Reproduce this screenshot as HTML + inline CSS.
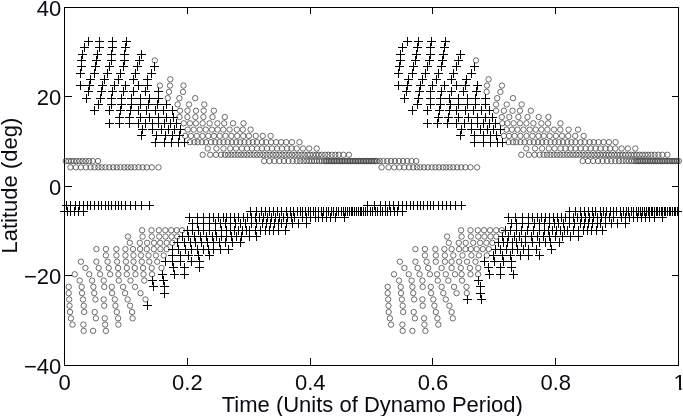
<!DOCTYPE html>
<html><head><meta charset="utf-8"><title>Butterfly diagram</title>
<style>html,body{margin:0;padding:0;background:#fff}svg{display:block}text{font-family:"Liberation Sans",Arial,Helvetica,sans-serif;font-size:22px;fill:#0a0a14}</style></head><body>
<svg width="683" height="416" viewBox="0 0 683 416">
<rect width="683" height="416" fill="#fff"/>
<g stroke="#000" stroke-width="1" fill="none" shape-rendering="crispEdges">
<rect x="64.5" y="7.5" width="614.0" height="358.0"/>
<path d="M187.5 365.5v-7.5M187.5 7.5v6.5M310.5 365.5v-7.5M310.5 7.5v6.5M432.5 365.5v-7.5M432.5 7.5v6.5M555.5 365.5v-7.5M555.5 7.5v6.5M64.5 96.5h7.5M678.5 96.5h-6.5M64.5 186.5h7.5M678.5 186.5h-6.5M64.5 275.5h7.5M678.5 275.5h-6.5"/>
</g>
<path d="M84 41.5h9M88.5 37v9M95 41.5h9M99.5 37v9M108 41.5h9M112.5 37v9M122 41.5h9M126.5 37v9M80 47.5h9M84.5 43v9M95 47.5h9M99.5 43v9M108 47.5h9M112.5 43v9M121 47.5h9M125.5 43v9M78 54.5h9M82.5 50v9M93 54.5h9M97.5 50v9M107 54.5h9M111.5 50v9M120 54.5h9M124.5 50v9M137 54.5h9M141.5 50v9M77 60.5h9M81.5 56v9M92 60.5h9M96.5 56v9M107 60.5h9M111.5 56v9M120 60.5h9M124.5 56v9M135 60.5h9M139.5 56v9M77 66.5h9M81.5 62v9M91 66.5h9M95.5 62v9M105 66.5h9M109.5 62v9M119 66.5h9M123.5 62v9M133 66.5h9M137.5 62v9M150 66.5h9M154.5 62v9M76 73.5h9M80.5 69v9M90 73.5h9M94.5 69v9M103 73.5h9M107.5 69v9M116 73.5h9M120.5 69v9M131 73.5h9M135.5 69v9M147 73.5h9M151.5 69v9M86 79.5h9M90.5 75v9M100 79.5h9M104.5 75v9M114 79.5h9M118.5 75v9M129 79.5h9M133.5 75v9M143 79.5h9M147.5 75v9M76 85.5h9M80.5 81v9M85 85.5h9M89.5 81v9M98 85.5h9M102.5 81v9M110 85.5h9M114.5 81v9M121 85.5h9M125.5 81v9M134 85.5h9M138.5 81v9M143 85.5h9M147.5 81v9M84 91.5h9M88.5 87v9M97 91.5h9M101.5 87v9M108 91.5h9M112.5 87v9M119 91.5h9M123.5 87v9M129 91.5h9M133.5 87v9M141 91.5h9M145.5 87v9M154 91.5h9M158.5 87v9M82 98.5h9M86.5 94v9M96 98.5h9M100.5 94v9M107 98.5h9M111.5 94v9M117 98.5h9M121.5 94v9M127 98.5h9M131.5 94v9M136 98.5h9M140.5 94v9M145 98.5h9M149.5 94v9M154 98.5h9M158.5 94v9M94 104.5h9M98.5 100v9M107 104.5h9M111.5 100v9M117 104.5h9M121.5 100v9M127 104.5h9M131.5 100v9M136 104.5h9M140.5 100v9M144 104.5h9M148.5 100v9M153 104.5h9M157.5 100v9M162 104.5h9M166.5 100v9M90 110.5h9M94.5 106v9M105 110.5h9M109.5 106v9M116 110.5h9M120.5 106v9M126 110.5h9M130.5 106v9M134 110.5h9M138.5 106v9M142 110.5h9M146.5 106v9M151 110.5h9M155.5 106v9M159 110.5h9M163.5 106v9M168 110.5h9M172.5 106v9M115 117.5h9M119.5 113v9M125 117.5h9M129.5 113v9M136 117.5h9M140.5 113v9M145 117.5h9M149.5 113v9M154 117.5h9M158.5 113v9M162 117.5h9M166.5 113v9M169 117.5h9M173.5 113v9M105 123.5h9M109.5 119v9M115 123.5h9M119.5 119v9M125 123.5h9M129.5 119v9M134 123.5h9M138.5 119v9M141 123.5h9M145.5 119v9M148 123.5h9M152.5 119v9M154 123.5h9M158.5 119v9M160 123.5h9M164.5 119v9M166 123.5h9M170.5 119v9M172 123.5h9M176.5 119v9M138 129.5h9M142.5 125v9M148 129.5h9M152.5 125v9M157 129.5h9M161.5 125v9M164 129.5h9M168.5 125v9M170 129.5h9M174.5 125v9M176 129.5h9M180.5 125v9M137 135.5h9M141.5 131v9M152 135.5h9M156.5 131v9M161 135.5h9M165.5 131v9M168 135.5h9M172.5 131v9M175 135.5h9M179.5 131v9M151 142.5h9M155.5 138v9M160 142.5h9M164.5 138v9M167 142.5h9M171.5 138v9M174 142.5h9M178.5 138v9M180 142.5h9M184.5 138v9M62 205.5h9M66.5 201v9M66 205.5h9M70.5 201v9M71 205.5h9M75.5 201v9M75 205.5h9M79.5 201v9M79 205.5h9M83.5 201v9M83 205.5h9M87.5 201v9M86 205.5h9M90.5 201v9M90 205.5h9M94.5 201v9M94 205.5h9M98.5 201v9M97 205.5h9M101.5 201v9M101 205.5h9M105.5 201v9M104 205.5h9M108.5 201v9M107 205.5h9M111.5 201v9M111 205.5h9M115.5 201v9M114 205.5h9M118.5 201v9M117 205.5h9M121.5 201v9M121 205.5h9M125.5 201v9M126 205.5h9M130.5 201v9M131 205.5h9M135.5 201v9M137 205.5h9M141.5 201v9M145 205.5h9M149.5 201v9M363 205.5h9M367.5 201v9M370 205.5h9M374.5 201v9M376 205.5h9M380.5 201v9M381 205.5h9M385.5 201v9M385 205.5h9M389.5 201v9M389 205.5h9M393.5 201v9M394 205.5h9M398.5 201v9M398 205.5h9M402.5 201v9M402 205.5h9M406.5 201v9M406 205.5h9M410.5 201v9M409 205.5h9M413.5 201v9M413 205.5h9M417.5 201v9M416 205.5h9M420.5 201v9M419 205.5h9M423.5 201v9M423 205.5h9M427.5 201v9M426 205.5h9M430.5 201v9M429 205.5h9M433.5 201v9M434 205.5h9M438.5 201v9M438 205.5h9M442.5 201v9M442 205.5h9M446.5 201v9M446 205.5h9M450.5 201v9M451 205.5h9M455.5 201v9M457 205.5h9M461.5 201v9M60 211.5h9M64.5 207v9M63 211.5h9M67.5 207v9M66 211.5h9M70.5 207v9M70 211.5h9M74.5 207v9M74 211.5h9M78.5 207v9M79 211.5h9M83.5 207v9M246 211.5h9M250.5 207v9M252 211.5h9M256.5 207v9M257 211.5h9M261.5 207v9M261 211.5h9M265.5 207v9M265 211.5h9M269.5 207v9M269 211.5h9M273.5 207v9M273 211.5h9M277.5 207v9M277 211.5h9M281.5 207v9M282 211.5h9M286.5 207v9M286 211.5h9M290.5 207v9M289 211.5h9M293.5 207v9M293 211.5h9M297.5 207v9M296 211.5h9M300.5 207v9M298 211.5h9M302.5 207v9M301 211.5h9M305.5 207v9M304 211.5h9M308.5 207v9M306 211.5h9M310.5 207v9M309 211.5h9M313.5 207v9M311 211.5h9M315.5 207v9M314 211.5h9M318.5 207v9M317 211.5h9M321.5 207v9M319 211.5h9M323.5 207v9M322 211.5h9M326.5 207v9M324 211.5h9M328.5 207v9M327 211.5h9M331.5 207v9M329 211.5h9M333.5 207v9M332 211.5h9M336.5 207v9M334 211.5h9M338.5 207v9M337 211.5h9M341.5 207v9M339 211.5h9M343.5 207v9M341 211.5h9M345.5 207v9M343 211.5h9M347.5 207v9M345 211.5h9M349.5 207v9M347 211.5h9M351.5 207v9M348 211.5h9M352.5 207v9M350 211.5h9M354.5 207v9M352 211.5h9M356.5 207v9M354 211.5h9M358.5 207v9M356 211.5h9M360.5 207v9M357 211.5h9M361.5 207v9M359 211.5h9M363.5 207v9M361 211.5h9M365.5 207v9M363 211.5h9M367.5 207v9M366 211.5h9M370.5 207v9M368 211.5h9M372.5 207v9M371 211.5h9M375.5 207v9M373 211.5h9M377.5 207v9M376 211.5h9M380.5 207v9M378 211.5h9M382.5 207v9M381 211.5h9M385.5 207v9M383 211.5h9M387.5 207v9M386 211.5h9M390.5 207v9M390 211.5h9M394.5 207v9M393 211.5h9M397.5 207v9M398 211.5h9M402.5 207v9M185 217.5h9M189.5 213v9M193 217.5h9M197.5 213v9M199 217.5h9M203.5 213v9M205 217.5h9M209.5 213v9M209 217.5h9M213.5 213v9M214 217.5h9M218.5 213v9M219 217.5h9M223.5 213v9M222 217.5h9M226.5 213v9M226 217.5h9M230.5 213v9M230 217.5h9M234.5 213v9M234 217.5h9M238.5 213v9M239 217.5h9M243.5 213v9M243 217.5h9M247.5 213v9M247 217.5h9M251.5 213v9M251 217.5h9M255.5 213v9M255 217.5h9M259.5 213v9M259 217.5h9M263.5 213v9M263 217.5h9M267.5 213v9M267 217.5h9M271.5 213v9M271 217.5h9M275.5 213v9M275 217.5h9M279.5 213v9M279 217.5h9M283.5 213v9M283 217.5h9M287.5 213v9M287 217.5h9M291.5 213v9M290 217.5h9M294.5 213v9M298 217.5h9M302.5 213v9M302 217.5h9M306.5 213v9M306 217.5h9M310.5 213v9M311 217.5h9M315.5 213v9M314 217.5h9M318.5 213v9M318 217.5h9M322.5 213v9M322 217.5h9M326.5 213v9M326 217.5h9M330.5 213v9M331 217.5h9M335.5 213v9M340 217.5h9M344.5 213v9M188 223.5h9M192.5 219v9M193 223.5h9M197.5 219v9M199 223.5h9M203.5 219v9M205 223.5h9M209.5 219v9M211 223.5h9M215.5 219v9M216 223.5h9M220.5 219v9M221 223.5h9M225.5 219v9M226 223.5h9M230.5 219v9M231 223.5h9M235.5 219v9M236 223.5h9M240.5 219v9M241 223.5h9M245.5 219v9M247 223.5h9M251.5 219v9M252 223.5h9M256.5 219v9M258 223.5h9M262.5 219v9M262 223.5h9M266.5 219v9M266 223.5h9M270.5 219v9M270 223.5h9M274.5 219v9M274 223.5h9M278.5 219v9M277 223.5h9M281.5 219v9M282 223.5h9M286.5 219v9M288 223.5h9M292.5 219v9M294 223.5h9M298.5 219v9M302 223.5h9M306.5 219v9M183 230.5h9M187.5 226v9M188 230.5h9M192.5 226v9M194 230.5h9M198.5 226v9M199 230.5h9M203.5 226v9M205 230.5h9M209.5 226v9M211 230.5h9M215.5 226v9M217 230.5h9M221.5 226v9M222 230.5h9M226.5 226v9M226 230.5h9M230.5 226v9M230 230.5h9M234.5 226v9M234 230.5h9M238.5 226v9M238 230.5h9M242.5 226v9M242 230.5h9M246.5 226v9M245 230.5h9M249.5 226v9M251 230.5h9M255.5 226v9M256 230.5h9M260.5 226v9M261 230.5h9M265.5 226v9M265 230.5h9M269.5 226v9M269 230.5h9M273.5 226v9M274 230.5h9M278.5 226v9M281 230.5h9M285.5 226v9M178 236.5h9M182.5 232v9M184 236.5h9M188.5 232v9M190 236.5h9M194.5 232v9M196 236.5h9M200.5 232v9M202 236.5h9M206.5 232v9M208 236.5h9M212.5 232v9M212 236.5h9M216.5 232v9M217 236.5h9M221.5 232v9M222 236.5h9M226.5 232v9M227 236.5h9M231.5 232v9M232 236.5h9M236.5 232v9M237 236.5h9M241.5 232v9M245 236.5h9M249.5 232v9M252 236.5h9M256.5 232v9M173 242.5h9M177.5 238v9M180 242.5h9M184.5 238v9M186 242.5h9M190.5 238v9M191 242.5h9M195.5 238v9M197 242.5h9M201.5 238v9M203 242.5h9M207.5 238v9M209 242.5h9M213.5 238v9M215 242.5h9M219.5 238v9M221 242.5h9M225.5 238v9M228 242.5h9M232.5 238v9M236 242.5h9M240.5 238v9M168 249.5h9M172.5 245v9M174 249.5h9M178.5 245v9M181 249.5h9M185.5 245v9M187 249.5h9M191.5 245v9M193 249.5h9M197.5 245v9M199 249.5h9M203.5 245v9M204 249.5h9M208.5 245v9M209 249.5h9M213.5 245v9M216 249.5h9M220.5 245v9M224 249.5h9M228.5 245v9M168 255.5h9M172.5 251v9M176 255.5h9M180.5 251v9M184 255.5h9M188.5 251v9M194 255.5h9M198.5 251v9M205 255.5h9M209.5 251v9M161 261.5h9M165.5 257v9M168 261.5h9M172.5 257v9M176 261.5h9M180.5 257v9M187 261.5h9M191.5 257v9M195 261.5h9M199.5 257v9M169 267.5h9M173.5 263v9M180 267.5h9M184.5 263v9M195 267.5h9M199.5 263v9M158 274.5h9M162.5 270v9M170 274.5h9M174.5 270v9M180 274.5h9M184.5 270v9M148 280.5h9M152.5 276v9M159 280.5h9M163.5 276v9M149 286.5h9M153.5 282v9M160 286.5h9M164.5 282v9M160 293.5h9M164.5 289v9M143 305.5h9M147.5 301v9M403 41.5h9M407.5 37v9M414 41.5h9M418.5 37v9M427 41.5h9M431.5 37v9M441 41.5h9M445.5 37v9M398 47.5h9M402.5 43v9M413 47.5h9M417.5 43v9M426 47.5h9M430.5 43v9M440 47.5h9M444.5 43v9M396 54.5h9M400.5 50v9M412 54.5h9M416.5 50v9M426 54.5h9M430.5 50v9M439 54.5h9M443.5 50v9M456 54.5h9M460.5 50v9M396 60.5h9M400.5 56v9M411 60.5h9M415.5 56v9M425 60.5h9M429.5 56v9M438 60.5h9M442.5 56v9M454 60.5h9M458.5 56v9M395 66.5h9M399.5 62v9M409 66.5h9M413.5 62v9M423 66.5h9M427.5 62v9M437 66.5h9M441.5 62v9M452 66.5h9M456.5 62v9M470 66.5h9M474.5 62v9M394 73.5h9M398.5 69v9M408 73.5h9M412.5 69v9M421 73.5h9M425.5 69v9M434 73.5h9M438.5 69v9M449 73.5h9M453.5 69v9M467 73.5h9M471.5 69v9M404 79.5h9M408.5 75v9M418 79.5h9M422.5 75v9M432 79.5h9M436.5 75v9M447 79.5h9M451.5 75v9M462 79.5h9M466.5 75v9M394 85.5h9M398.5 81v9M403 85.5h9M407.5 81v9M416 85.5h9M420.5 81v9M428 85.5h9M432.5 81v9M440 85.5h9M444.5 81v9M452 85.5h9M456.5 81v9M461 85.5h9M465.5 81v9M473 85.5h9M477.5 81v9M402 91.5h9M406.5 87v9M415 91.5h9M419.5 87v9M426 91.5h9M430.5 87v9M437 91.5h9M441.5 87v9M447 91.5h9M451.5 87v9M459 91.5h9M463.5 87v9M472 91.5h9M476.5 87v9M400 98.5h9M404.5 94v9M414 98.5h9M418.5 94v9M426 98.5h9M430.5 94v9M436 98.5h9M440.5 94v9M445 98.5h9M449.5 94v9M454 98.5h9M458.5 94v9M463 98.5h9M467.5 94v9M471 98.5h9M475.5 94v9M481 98.5h9M485.5 94v9M413 104.5h9M417.5 100v9M426 104.5h9M430.5 100v9M436 104.5h9M440.5 100v9M446 104.5h9M450.5 100v9M454 104.5h9M458.5 100v9M463 104.5h9M467.5 100v9M471 104.5h9M475.5 100v9M481 104.5h9M485.5 100v9M408 110.5h9M412.5 106v9M423 110.5h9M427.5 106v9M435 110.5h9M439.5 106v9M445 110.5h9M449.5 106v9M452 110.5h9M456.5 106v9M461 110.5h9M465.5 106v9M469 110.5h9M473.5 106v9M477 110.5h9M481.5 106v9M485 110.5h9M489.5 106v9M434 117.5h9M438.5 113v9M444 117.5h9M448.5 113v9M454 117.5h9M458.5 113v9M464 117.5h9M468.5 113v9M473 117.5h9M477.5 113v9M481 117.5h9M485.5 113v9M488 117.5h9M492.5 113v9M423 123.5h9M427.5 119v9M433 123.5h9M437.5 119v9M443 123.5h9M447.5 119v9M452 123.5h9M456.5 119v9M460 123.5h9M464.5 119v9M467 123.5h9M471.5 119v9M473 123.5h9M477.5 119v9M479 123.5h9M483.5 119v9M485 123.5h9M489.5 119v9M491 123.5h9M495.5 119v9M457 129.5h9M461.5 125v9M467 129.5h9M471.5 125v9M476 129.5h9M480.5 125v9M483 129.5h9M487.5 125v9M489 129.5h9M493.5 125v9M496 129.5h9M500.5 125v9M456 135.5h9M460.5 131v9M470 135.5h9M474.5 131v9M479 135.5h9M483.5 131v9M486 135.5h9M490.5 131v9M492 135.5h9M496.5 131v9M470 142.5h9M474.5 138v9M479 142.5h9M483.5 138v9M486 142.5h9M490.5 138v9M493 142.5h9M497.5 138v9M498 142.5h9M502.5 138v9M565 211.5h9M569.5 207v9M571 211.5h9M575.5 207v9M576 211.5h9M580.5 207v9M580 211.5h9M584.5 207v9M584 211.5h9M588.5 207v9M588 211.5h9M592.5 207v9M591 211.5h9M595.5 207v9M596 211.5h9M600.5 207v9M599 211.5h9M603.5 207v9M602 211.5h9M606.5 207v9M606 211.5h9M610.5 207v9M609 211.5h9M613.5 207v9M612 211.5h9M616.5 207v9M616 211.5h9M620.5 207v9M619 211.5h9M623.5 207v9M622 211.5h9M626.5 207v9M624 211.5h9M628.5 207v9M627 211.5h9M631.5 207v9M629 211.5h9M633.5 207v9M632 211.5h9M636.5 207v9M634 211.5h9M638.5 207v9M636 211.5h9M640.5 207v9M638 211.5h9M642.5 207v9M640 211.5h9M644.5 207v9M642 211.5h9M646.5 207v9M644 211.5h9M648.5 207v9M645 211.5h9M649.5 207v9M647 211.5h9M651.5 207v9M648 211.5h9M652.5 207v9M650 211.5h9M654.5 207v9M652 211.5h9M656.5 207v9M653 211.5h9M657.5 207v9M655 211.5h9M659.5 207v9M657 211.5h9M661.5 207v9M658 211.5h9M662.5 207v9M660 211.5h9M664.5 207v9M661 211.5h9M665.5 207v9M663 211.5h9M667.5 207v9M665 211.5h9M669.5 207v9M666 211.5h9M670.5 207v9M668 211.5h9M672.5 207v9M670 211.5h9M674.5 207v9M671 211.5h9M675.5 207v9M673 211.5h9M677.5 207v9M504 217.5h9M508.5 213v9M511 217.5h9M515.5 213v9M518 217.5h9M522.5 213v9M524 217.5h9M528.5 213v9M528 217.5h9M532.5 213v9M533 217.5h9M537.5 213v9M537 217.5h9M541.5 213v9M541 217.5h9M545.5 213v9M545 217.5h9M549.5 213v9M549 217.5h9M553.5 213v9M553 217.5h9M557.5 213v9M557 217.5h9M561.5 213v9M561 217.5h9M565.5 213v9M565 217.5h9M569.5 213v9M569 217.5h9M573.5 213v9M573 217.5h9M577.5 213v9M577 217.5h9M581.5 213v9M581 217.5h9M585.5 213v9M585 217.5h9M589.5 213v9M589 217.5h9M593.5 213v9M593 217.5h9M597.5 213v9M597 217.5h9M601.5 213v9M601 217.5h9M605.5 213v9M605 217.5h9M609.5 213v9M609 217.5h9M613.5 213v9M617 217.5h9M621.5 213v9M621 217.5h9M625.5 213v9M625 217.5h9M629.5 213v9M629 217.5h9M633.5 213v9M633 217.5h9M637.5 213v9M637 217.5h9M641.5 213v9M641 217.5h9M645.5 213v9M645 217.5h9M649.5 213v9M650 217.5h9M654.5 213v9M658 217.5h9M662.5 213v9M507 223.5h9M511.5 219v9M512 223.5h9M516.5 219v9M518 223.5h9M522.5 219v9M524 223.5h9M528.5 219v9M530 223.5h9M534.5 219v9M535 223.5h9M539.5 219v9M540 223.5h9M544.5 219v9M545 223.5h9M549.5 219v9M550 223.5h9M554.5 219v9M554 223.5h9M558.5 219v9M559 223.5h9M563.5 219v9M565 223.5h9M569.5 219v9M570 223.5h9M574.5 219v9M576 223.5h9M580.5 219v9M580 223.5h9M584.5 219v9M584 223.5h9M588.5 219v9M588 223.5h9M592.5 219v9M593 223.5h9M597.5 219v9M596 223.5h9M600.5 219v9M601 223.5h9M605.5 219v9M607 223.5h9M611.5 219v9M613 223.5h9M617.5 219v9M621 223.5h9M625.5 219v9M501 230.5h9M505.5 226v9M506 230.5h9M510.5 226v9M512 230.5h9M516.5 226v9M517 230.5h9M521.5 226v9M523 230.5h9M527.5 226v9M529 230.5h9M533.5 226v9M535 230.5h9M539.5 226v9M540 230.5h9M544.5 226v9M544 230.5h9M548.5 226v9M548 230.5h9M552.5 226v9M552 230.5h9M556.5 226v9M556 230.5h9M560.5 226v9M560 230.5h9M564.5 226v9M563 230.5h9M567.5 226v9M569 230.5h9M573.5 226v9M574 230.5h9M578.5 226v9M579 230.5h9M583.5 226v9M583 230.5h9M587.5 226v9M587 230.5h9M591.5 226v9M592 230.5h9M596.5 226v9M598 230.5h9M602.5 226v9M498 236.5h9M502.5 232v9M504 236.5h9M508.5 232v9M510 236.5h9M514.5 232v9M515 236.5h9M519.5 232v9M521 236.5h9M525.5 232v9M527 236.5h9M531.5 232v9M533 236.5h9M537.5 232v9M539 236.5h9M543.5 232v9M545 236.5h9M549.5 232v9M551 236.5h9M555.5 232v9M558 236.5h9M562.5 232v9M566 236.5h9M570.5 232v9M574 236.5h9M578.5 232v9M494 242.5h9M498.5 238v9M499 242.5h9M503.5 238v9M503 242.5h9M507.5 238v9M508 242.5h9M512.5 238v9M512 242.5h9M516.5 238v9M517 242.5h9M521.5 238v9M521 242.5h9M525.5 238v9M528 242.5h9M532.5 238v9M535 242.5h9M539.5 238v9M541 242.5h9M545.5 238v9M546 242.5h9M550.5 238v9M555 242.5h9M559.5 238v9M491 249.5h9M495.5 245v9M496 249.5h9M500.5 245v9M502 249.5h9M506.5 245v9M508 249.5h9M512.5 245v9M513 249.5h9M517.5 245v9M519 249.5h9M523.5 245v9M524 249.5h9M528.5 245v9M532 249.5h9M536.5 245v9M547 249.5h9M551.5 245v9M489 255.5h9M493.5 251v9M498 255.5h9M502.5 251v9M506 255.5h9M510.5 251v9M516 255.5h9M520.5 251v9M524 255.5h9M528.5 251v9M535 255.5h9M539.5 251v9M480 261.5h9M484.5 257v9M490 261.5h9M494.5 257v9M499 261.5h9M503.5 257v9M507 261.5h9M511.5 257v9M484 267.5h9M488.5 263v9M496 267.5h9M500.5 263v9M507 267.5h9M511.5 263v9M485 274.5h9M489.5 270v9M496 274.5h9M500.5 270v9M509 274.5h9M513.5 270v9M474 280.5h9M478.5 276v9M476 286.5h9M480.5 282v9M476 293.5h9M480.5 289v9M463 299.5h9M467.5 295v9M477 299.5h9M481.5 295v9" stroke="#000" stroke-width="1" fill="none" shape-rendering="crispEdges"/>
<g fill="none" stroke="#3a3a3a" stroke-width="0.74">
<circle cx="154.8" cy="60.42" r="2.7"/>
<circle cx="170.3" cy="79.29" r="2.7"/>
<circle cx="159.9" cy="85.58" r="2.7"/>
<circle cx="170.0" cy="85.58" r="2.7"/>
<circle cx="183.5" cy="85.58" r="2.7"/>
<circle cx="169.0" cy="91.88" r="2.7"/>
<circle cx="183.0" cy="91.88" r="2.7"/>
<circle cx="167.7" cy="98.16" r="2.7"/>
<circle cx="179.4" cy="98.16" r="2.7"/>
<circle cx="195.2" cy="98.16" r="2.7"/>
<circle cx="177.7" cy="104.45" r="2.7"/>
<circle cx="189.0" cy="104.45" r="2.7"/>
<circle cx="204.3" cy="104.45" r="2.7"/>
<circle cx="180.0" cy="110.74" r="2.7"/>
<circle cx="187.5" cy="110.74" r="2.7"/>
<circle cx="196.0" cy="110.74" r="2.7"/>
<circle cx="203.7" cy="110.74" r="2.7"/>
<circle cx="213.9" cy="110.74" r="2.7"/>
<circle cx="179.5" cy="117.03" r="2.7"/>
<circle cx="187.4" cy="117.03" r="2.7"/>
<circle cx="195.4" cy="117.03" r="2.7"/>
<circle cx="203.4" cy="117.03" r="2.7"/>
<circle cx="212.5" cy="117.03" r="2.7"/>
<circle cx="224.8" cy="117.03" r="2.7"/>
<circle cx="183.8" cy="123.32" r="2.7"/>
<circle cx="189.9" cy="123.32" r="2.7"/>
<circle cx="195.9" cy="123.32" r="2.7"/>
<circle cx="202.6" cy="123.32" r="2.7"/>
<circle cx="209.6" cy="123.32" r="2.7"/>
<circle cx="217.4" cy="123.32" r="2.7"/>
<circle cx="224.2" cy="123.32" r="2.7"/>
<circle cx="233.0" cy="123.32" r="2.7"/>
<circle cx="243.5" cy="123.32" r="2.7"/>
<circle cx="187.7" cy="129.62" r="2.7"/>
<circle cx="193.7" cy="129.62" r="2.7"/>
<circle cx="199.8" cy="129.62" r="2.7"/>
<circle cx="205.8" cy="129.62" r="2.7"/>
<circle cx="211.9" cy="129.62" r="2.7"/>
<circle cx="217.6" cy="129.62" r="2.7"/>
<circle cx="223.3" cy="129.62" r="2.7"/>
<circle cx="229.6" cy="129.62" r="2.7"/>
<circle cx="236.9" cy="129.62" r="2.7"/>
<circle cx="242.8" cy="129.62" r="2.7"/>
<circle cx="250.6" cy="129.62" r="2.7"/>
<circle cx="185.2" cy="135.91" r="2.7"/>
<circle cx="190.9" cy="135.91" r="2.7"/>
<circle cx="196.8" cy="135.91" r="2.7"/>
<circle cx="202.6" cy="135.91" r="2.7"/>
<circle cx="208.2" cy="135.91" r="2.7"/>
<circle cx="214.0" cy="135.91" r="2.7"/>
<circle cx="219.7" cy="135.91" r="2.7"/>
<circle cx="225.5" cy="135.91" r="2.7"/>
<circle cx="231.4" cy="135.91" r="2.7"/>
<circle cx="237.2" cy="135.91" r="2.7"/>
<circle cx="243.2" cy="135.91" r="2.7"/>
<circle cx="248.9" cy="135.91" r="2.7"/>
<circle cx="255.8" cy="135.91" r="2.7"/>
<circle cx="262.8" cy="135.91" r="2.7"/>
<circle cx="270.6" cy="135.91" r="2.7"/>
<circle cx="189.9" cy="142.19" r="2.7"/>
<circle cx="194.4" cy="142.19" r="2.7"/>
<circle cx="197.7" cy="142.19" r="2.7"/>
<circle cx="201.8" cy="142.19" r="2.7"/>
<circle cx="206.0" cy="142.19" r="2.7"/>
<circle cx="211.0" cy="142.19" r="2.7"/>
<circle cx="215.2" cy="142.19" r="2.7"/>
<circle cx="219.4" cy="142.19" r="2.7"/>
<circle cx="223.5" cy="142.19" r="2.7"/>
<circle cx="227.7" cy="142.19" r="2.7"/>
<circle cx="231.9" cy="142.19" r="2.7"/>
<circle cx="236.1" cy="142.19" r="2.7"/>
<circle cx="240.2" cy="142.19" r="2.7"/>
<circle cx="244.4" cy="142.19" r="2.7"/>
<circle cx="248.6" cy="142.19" r="2.7"/>
<circle cx="252.8" cy="142.19" r="2.7"/>
<circle cx="256.9" cy="142.19" r="2.7"/>
<circle cx="261.9" cy="142.19" r="2.7"/>
<circle cx="266.1" cy="142.19" r="2.7"/>
<circle cx="271.1" cy="142.19" r="2.7"/>
<circle cx="276.1" cy="142.19" r="2.7"/>
<circle cx="281.1" cy="142.19" r="2.7"/>
<circle cx="286.2" cy="142.19" r="2.7"/>
<circle cx="292.0" cy="142.19" r="2.7"/>
<circle cx="299.5" cy="142.19" r="2.7"/>
<circle cx="207.7" cy="148.48" r="2.7"/>
<circle cx="216.4" cy="148.48" r="2.7"/>
<circle cx="223.5" cy="148.48" r="2.7"/>
<circle cx="230.2" cy="148.48" r="2.7"/>
<circle cx="236.0" cy="148.48" r="2.7"/>
<circle cx="241.9" cy="148.48" r="2.7"/>
<circle cx="247.0" cy="148.48" r="2.7"/>
<circle cx="252.0" cy="148.48" r="2.7"/>
<circle cx="257.0" cy="148.48" r="2.7"/>
<circle cx="262.0" cy="148.48" r="2.7"/>
<circle cx="267.0" cy="148.48" r="2.7"/>
<circle cx="272.0" cy="148.48" r="2.7"/>
<circle cx="277.0" cy="148.48" r="2.7"/>
<circle cx="282.0" cy="148.48" r="2.7"/>
<circle cx="287.0" cy="148.48" r="2.7"/>
<circle cx="291.5" cy="148.48" r="2.7"/>
<circle cx="296.7" cy="148.48" r="2.7"/>
<circle cx="303.0" cy="148.48" r="2.7"/>
<circle cx="309.2" cy="148.48" r="2.7"/>
<circle cx="316.7" cy="148.48" r="2.7"/>
<circle cx="202.7" cy="154.78" r="2.7"/>
<circle cx="210.2" cy="154.78" r="2.7"/>
<circle cx="216.0" cy="154.78" r="2.7"/>
<circle cx="221.0" cy="154.78" r="2.7"/>
<circle cx="225.0" cy="154.78" r="2.7"/>
<circle cx="228.2" cy="154.78" r="2.7"/>
<circle cx="231.4" cy="154.78" r="2.7"/>
<circle cx="234.6" cy="154.78" r="2.7"/>
<circle cx="237.8" cy="154.78" r="2.7"/>
<circle cx="241.0" cy="154.78" r="2.7"/>
<circle cx="244.1" cy="154.78" r="2.7"/>
<circle cx="247.3" cy="154.78" r="2.7"/>
<circle cx="250.5" cy="154.78" r="2.7"/>
<circle cx="253.7" cy="154.78" r="2.7"/>
<circle cx="256.9" cy="154.78" r="2.7"/>
<circle cx="260.1" cy="154.78" r="2.7"/>
<circle cx="263.3" cy="154.78" r="2.7"/>
<circle cx="266.5" cy="154.78" r="2.7"/>
<circle cx="269.7" cy="154.78" r="2.7"/>
<circle cx="272.9" cy="154.78" r="2.7"/>
<circle cx="276.1" cy="154.78" r="2.7"/>
<circle cx="279.3" cy="154.78" r="2.7"/>
<circle cx="282.4" cy="154.78" r="2.7"/>
<circle cx="285.6" cy="154.78" r="2.7"/>
<circle cx="288.8" cy="154.78" r="2.7"/>
<circle cx="292.0" cy="154.78" r="2.7"/>
<circle cx="295.2" cy="154.78" r="2.7"/>
<circle cx="298.4" cy="154.78" r="2.7"/>
<circle cx="301.5" cy="154.78" r="2.7"/>
<circle cx="304.5" cy="154.78" r="2.7"/>
<circle cx="307.6" cy="154.78" r="2.7"/>
<circle cx="310.1" cy="154.78" r="2.7"/>
<circle cx="313.1" cy="154.78" r="2.7"/>
<circle cx="316.1" cy="154.78" r="2.7"/>
<circle cx="318.7" cy="154.78" r="2.7"/>
<circle cx="321.7" cy="154.78" r="2.7"/>
<circle cx="325.2" cy="154.78" r="2.7"/>
<circle cx="328.3" cy="154.78" r="2.7"/>
<circle cx="331.8" cy="154.78" r="2.7"/>
<circle cx="335.3" cy="154.78" r="2.7"/>
<circle cx="338.8" cy="154.78" r="2.7"/>
<circle cx="343.4" cy="154.78" r="2.7"/>
<circle cx="348.9" cy="154.78" r="2.7"/>
<circle cx="65.8" cy="161.06" r="2.7"/>
<circle cx="68.4" cy="161.06" r="2.7"/>
<circle cx="71.1" cy="161.06" r="2.7"/>
<circle cx="73.8" cy="161.06" r="2.7"/>
<circle cx="76.7" cy="161.06" r="2.7"/>
<circle cx="79.6" cy="161.06" r="2.7"/>
<circle cx="82.7" cy="161.06" r="2.7"/>
<circle cx="85.8" cy="161.06" r="2.7"/>
<circle cx="89.1" cy="161.06" r="2.7"/>
<circle cx="92.7" cy="161.06" r="2.7"/>
<circle cx="98.0" cy="161.06" r="2.7"/>
<circle cx="264.1" cy="161.06" r="2.7"/>
<circle cx="269.4" cy="161.06" r="2.7"/>
<circle cx="274.5" cy="161.06" r="2.7"/>
<circle cx="279.3" cy="161.06" r="2.7"/>
<circle cx="284.0" cy="161.06" r="2.7"/>
<circle cx="288.4" cy="161.06" r="2.7"/>
<circle cx="292.7" cy="161.06" r="2.7"/>
<circle cx="296.7" cy="161.06" r="2.7"/>
<circle cx="300.2" cy="161.06" r="2.7"/>
<circle cx="303.5" cy="161.06" r="2.7"/>
<circle cx="306.4" cy="161.06" r="2.7"/>
<circle cx="309.2" cy="161.06" r="2.7"/>
<circle cx="311.8" cy="161.06" r="2.7"/>
<circle cx="314.3" cy="161.06" r="2.7"/>
<circle cx="316.8" cy="161.06" r="2.7"/>
<circle cx="319.3" cy="161.06" r="2.7"/>
<circle cx="321.8" cy="161.06" r="2.7"/>
<circle cx="324.3" cy="161.06" r="2.7"/>
<circle cx="325.9" cy="161.06" r="2.7"/>
<circle cx="327.5" cy="161.06" r="2.7"/>
<circle cx="329.1" cy="161.06" r="2.7"/>
<circle cx="330.7" cy="161.06" r="2.7"/>
<circle cx="332.3" cy="161.06" r="2.7"/>
<circle cx="333.9" cy="161.06" r="2.7"/>
<circle cx="335.5" cy="161.06" r="2.7"/>
<circle cx="337.1" cy="161.06" r="2.7"/>
<circle cx="338.7" cy="161.06" r="2.7"/>
<circle cx="340.3" cy="161.06" r="2.7"/>
<circle cx="341.9" cy="161.06" r="2.7"/>
<circle cx="343.5" cy="161.06" r="2.7"/>
<circle cx="345.1" cy="161.06" r="2.7"/>
<circle cx="346.7" cy="161.06" r="2.7"/>
<circle cx="348.3" cy="161.06" r="2.7"/>
<circle cx="349.9" cy="161.06" r="2.7"/>
<circle cx="351.5" cy="161.06" r="2.7"/>
<circle cx="353.1" cy="161.06" r="2.7"/>
<circle cx="354.7" cy="161.06" r="2.7"/>
<circle cx="356.3" cy="161.06" r="2.7"/>
<circle cx="357.9" cy="161.06" r="2.7"/>
<circle cx="359.5" cy="161.06" r="2.7"/>
<circle cx="361.1" cy="161.06" r="2.7"/>
<circle cx="362.7" cy="161.06" r="2.7"/>
<circle cx="364.3" cy="161.06" r="2.7"/>
<circle cx="365.9" cy="161.06" r="2.7"/>
<circle cx="367.5" cy="161.06" r="2.7"/>
<circle cx="369.1" cy="161.06" r="2.7"/>
<circle cx="370.7" cy="161.06" r="2.7"/>
<circle cx="372.3" cy="161.06" r="2.7"/>
<circle cx="373.9" cy="161.06" r="2.7"/>
<circle cx="375.5" cy="161.06" r="2.7"/>
<circle cx="377.1" cy="161.06" r="2.7"/>
<circle cx="379.8" cy="161.06" r="2.7"/>
<circle cx="383.4" cy="161.06" r="2.7"/>
<circle cx="387.2" cy="161.06" r="2.7"/>
<circle cx="391.0" cy="161.06" r="2.7"/>
<circle cx="394.9" cy="161.06" r="2.7"/>
<circle cx="398.9" cy="161.06" r="2.7"/>
<circle cx="403.0" cy="161.06" r="2.7"/>
<circle cx="407.2" cy="161.06" r="2.7"/>
<circle cx="411.5" cy="161.06" r="2.7"/>
<circle cx="416.2" cy="161.06" r="2.7"/>
<circle cx="70.4" cy="167.35" r="2.7"/>
<circle cx="75.9" cy="167.35" r="2.7"/>
<circle cx="80.9" cy="167.35" r="2.7"/>
<circle cx="85.9" cy="167.35" r="2.7"/>
<circle cx="90.6" cy="167.35" r="2.7"/>
<circle cx="94.6" cy="167.35" r="2.7"/>
<circle cx="98.4" cy="167.35" r="2.7"/>
<circle cx="101.7" cy="167.35" r="2.7"/>
<circle cx="105.4" cy="167.35" r="2.7"/>
<circle cx="109.2" cy="167.35" r="2.7"/>
<circle cx="113.1" cy="167.35" r="2.7"/>
<circle cx="116.8" cy="167.35" r="2.7"/>
<circle cx="120.4" cy="167.35" r="2.7"/>
<circle cx="124.3" cy="167.35" r="2.7"/>
<circle cx="127.6" cy="167.35" r="2.7"/>
<circle cx="131.0" cy="167.35" r="2.7"/>
<circle cx="134.6" cy="167.35" r="2.7"/>
<circle cx="138.5" cy="167.35" r="2.7"/>
<circle cx="142.6" cy="167.35" r="2.7"/>
<circle cx="146.8" cy="167.35" r="2.7"/>
<circle cx="151.8" cy="167.35" r="2.7"/>
<circle cx="158.5" cy="167.35" r="2.7"/>
<circle cx="381.6" cy="167.35" r="2.7"/>
<circle cx="142.1" cy="230.25" r="2.7"/>
<circle cx="151.5" cy="230.25" r="2.7"/>
<circle cx="158.8" cy="230.25" r="2.7"/>
<circle cx="165.3" cy="230.25" r="2.7"/>
<circle cx="171.2" cy="230.25" r="2.7"/>
<circle cx="176.7" cy="230.25" r="2.7"/>
<circle cx="182.0" cy="230.25" r="2.7"/>
<circle cx="128.0" cy="236.54" r="2.7"/>
<circle cx="142.6" cy="236.54" r="2.7"/>
<circle cx="151.8" cy="236.54" r="2.7"/>
<circle cx="159.3" cy="236.54" r="2.7"/>
<circle cx="165.5" cy="236.54" r="2.7"/>
<circle cx="171.6" cy="236.54" r="2.7"/>
<circle cx="177.2" cy="236.54" r="2.7"/>
<circle cx="129.8" cy="242.83" r="2.7"/>
<circle cx="139.8" cy="242.83" r="2.7"/>
<circle cx="147.1" cy="242.83" r="2.7"/>
<circle cx="154.0" cy="242.83" r="2.7"/>
<circle cx="160.2" cy="242.83" r="2.7"/>
<circle cx="166.7" cy="242.83" r="2.7"/>
<circle cx="172.4" cy="242.83" r="2.7"/>
<circle cx="96.4" cy="249.12" r="2.7"/>
<circle cx="105.9" cy="249.12" r="2.7"/>
<circle cx="116.4" cy="249.12" r="2.7"/>
<circle cx="125.4" cy="249.12" r="2.7"/>
<circle cx="133.0" cy="249.12" r="2.7"/>
<circle cx="140.1" cy="249.12" r="2.7"/>
<circle cx="146.8" cy="249.12" r="2.7"/>
<circle cx="153.8" cy="249.12" r="2.7"/>
<circle cx="160.4" cy="249.12" r="2.7"/>
<circle cx="166.7" cy="249.12" r="2.7"/>
<circle cx="105.9" cy="255.41" r="2.7"/>
<circle cx="116.4" cy="255.41" r="2.7"/>
<circle cx="125.4" cy="255.41" r="2.7"/>
<circle cx="133.5" cy="255.41" r="2.7"/>
<circle cx="141.0" cy="255.41" r="2.7"/>
<circle cx="148.5" cy="255.41" r="2.7"/>
<circle cx="156.0" cy="255.41" r="2.7"/>
<circle cx="163.7" cy="255.41" r="2.7"/>
<circle cx="80.9" cy="261.70" r="2.7"/>
<circle cx="96.4" cy="261.70" r="2.7"/>
<circle cx="107.6" cy="261.70" r="2.7"/>
<circle cx="117.1" cy="261.70" r="2.7"/>
<circle cx="125.9" cy="261.70" r="2.7"/>
<circle cx="133.5" cy="261.70" r="2.7"/>
<circle cx="141.8" cy="261.70" r="2.7"/>
<circle cx="149.3" cy="261.70" r="2.7"/>
<circle cx="157.2" cy="261.70" r="2.7"/>
<circle cx="85.4" cy="268.00" r="2.7"/>
<circle cx="98.7" cy="268.00" r="2.7"/>
<circle cx="108.7" cy="268.00" r="2.7"/>
<circle cx="118.1" cy="268.00" r="2.7"/>
<circle cx="126.8" cy="268.00" r="2.7"/>
<circle cx="134.8" cy="268.00" r="2.7"/>
<circle cx="143.1" cy="268.00" r="2.7"/>
<circle cx="151.7" cy="268.00" r="2.7"/>
<circle cx="161.5" cy="268.00" r="2.7"/>
<circle cx="74.7" cy="274.28" r="2.7"/>
<circle cx="89.2" cy="274.28" r="2.7"/>
<circle cx="100.1" cy="274.28" r="2.7"/>
<circle cx="110.1" cy="274.28" r="2.7"/>
<circle cx="118.4" cy="274.28" r="2.7"/>
<circle cx="126.8" cy="274.28" r="2.7"/>
<circle cx="135.5" cy="274.28" r="2.7"/>
<circle cx="143.5" cy="274.28" r="2.7"/>
<circle cx="152.0" cy="274.28" r="2.7"/>
<circle cx="79.7" cy="280.57" r="2.7"/>
<circle cx="92.1" cy="280.57" r="2.7"/>
<circle cx="103.7" cy="280.57" r="2.7"/>
<circle cx="118.8" cy="280.57" r="2.7"/>
<circle cx="130.5" cy="280.57" r="2.7"/>
<circle cx="144.3" cy="280.57" r="2.7"/>
<circle cx="68.7" cy="286.87" r="2.7"/>
<circle cx="81.7" cy="286.87" r="2.7"/>
<circle cx="93.4" cy="286.87" r="2.7"/>
<circle cx="104.2" cy="286.87" r="2.7"/>
<circle cx="111.8" cy="286.87" r="2.7"/>
<circle cx="123.1" cy="286.87" r="2.7"/>
<circle cx="135.1" cy="286.87" r="2.7"/>
<circle cx="68.7" cy="293.15" r="2.7"/>
<circle cx="82.0" cy="293.15" r="2.7"/>
<circle cx="94.2" cy="293.15" r="2.7"/>
<circle cx="112.1" cy="293.15" r="2.7"/>
<circle cx="125.1" cy="293.15" r="2.7"/>
<circle cx="140.5" cy="293.15" r="2.7"/>
<circle cx="69.2" cy="299.44" r="2.7"/>
<circle cx="83.0" cy="299.44" r="2.7"/>
<circle cx="95.4" cy="299.44" r="2.7"/>
<circle cx="103.7" cy="299.44" r="2.7"/>
<circle cx="114.8" cy="299.44" r="2.7"/>
<circle cx="127.6" cy="299.44" r="2.7"/>
<circle cx="145.5" cy="299.44" r="2.7"/>
<circle cx="69.5" cy="305.74" r="2.7"/>
<circle cx="83.7" cy="305.74" r="2.7"/>
<circle cx="104.2" cy="305.74" r="2.7"/>
<circle cx="115.4" cy="305.74" r="2.7"/>
<circle cx="130.1" cy="305.74" r="2.7"/>
<circle cx="70.0" cy="312.02" r="2.7"/>
<circle cx="84.2" cy="312.02" r="2.7"/>
<circle cx="94.7" cy="312.02" r="2.7"/>
<circle cx="116.8" cy="312.02" r="2.7"/>
<circle cx="132.1" cy="312.02" r="2.7"/>
<circle cx="70.9" cy="318.31" r="2.7"/>
<circle cx="95.9" cy="318.31" r="2.7"/>
<circle cx="104.7" cy="318.31" r="2.7"/>
<circle cx="118.1" cy="318.31" r="2.7"/>
<circle cx="132.6" cy="318.31" r="2.7"/>
<circle cx="72.5" cy="324.61" r="2.7"/>
<circle cx="83.4" cy="324.61" r="2.7"/>
<circle cx="105.1" cy="324.61" r="2.7"/>
<circle cx="118.4" cy="324.61" r="2.7"/>
<circle cx="83.7" cy="330.89" r="2.7"/>
<circle cx="93.1" cy="330.89" r="2.7"/>
<circle cx="105.9" cy="330.89" r="2.7"/>
<circle cx="476.0" cy="60.42" r="2.7"/>
<circle cx="488.6" cy="79.29" r="2.7"/>
<circle cx="487.0" cy="85.58" r="2.7"/>
<circle cx="502.0" cy="85.58" r="2.7"/>
<circle cx="486.6" cy="91.88" r="2.7"/>
<circle cx="500.4" cy="91.88" r="2.7"/>
<circle cx="497.2" cy="98.16" r="2.7"/>
<circle cx="513.0" cy="98.16" r="2.7"/>
<circle cx="496.1" cy="104.45" r="2.7"/>
<circle cx="506.7" cy="104.45" r="2.7"/>
<circle cx="521.7" cy="104.45" r="2.7"/>
<circle cx="496.1" cy="110.74" r="2.7"/>
<circle cx="503.9" cy="110.74" r="2.7"/>
<circle cx="512.5" cy="110.74" r="2.7"/>
<circle cx="520.0" cy="110.74" r="2.7"/>
<circle cx="530.8" cy="110.74" r="2.7"/>
<circle cx="501.8" cy="117.03" r="2.7"/>
<circle cx="509.3" cy="117.03" r="2.7"/>
<circle cx="518.4" cy="117.03" r="2.7"/>
<circle cx="527.5" cy="117.03" r="2.7"/>
<circle cx="538.7" cy="117.03" r="2.7"/>
<circle cx="548.4" cy="117.03" r="2.7"/>
<circle cx="502.3" cy="123.32" r="2.7"/>
<circle cx="507.4" cy="123.32" r="2.7"/>
<circle cx="513.6" cy="123.32" r="2.7"/>
<circle cx="520.0" cy="123.32" r="2.7"/>
<circle cx="526.4" cy="123.32" r="2.7"/>
<circle cx="533.4" cy="123.32" r="2.7"/>
<circle cx="541.4" cy="123.32" r="2.7"/>
<circle cx="548.1" cy="123.32" r="2.7"/>
<circle cx="560.4" cy="123.32" r="2.7"/>
<circle cx="506.5" cy="129.62" r="2.7"/>
<circle cx="512.0" cy="129.62" r="2.7"/>
<circle cx="517.5" cy="129.62" r="2.7"/>
<circle cx="523.5" cy="129.62" r="2.7"/>
<circle cx="529.7" cy="129.62" r="2.7"/>
<circle cx="535.7" cy="129.62" r="2.7"/>
<circle cx="541.4" cy="129.62" r="2.7"/>
<circle cx="547.4" cy="129.62" r="2.7"/>
<circle cx="554.0" cy="129.62" r="2.7"/>
<circle cx="560.3" cy="129.62" r="2.7"/>
<circle cx="568.6" cy="129.62" r="2.7"/>
<circle cx="578.0" cy="129.62" r="2.7"/>
<circle cx="503.9" cy="135.91" r="2.7"/>
<circle cx="509.0" cy="135.91" r="2.7"/>
<circle cx="514.6" cy="135.91" r="2.7"/>
<circle cx="520.4" cy="135.91" r="2.7"/>
<circle cx="526.5" cy="135.91" r="2.7"/>
<circle cx="532.4" cy="135.91" r="2.7"/>
<circle cx="538.4" cy="135.91" r="2.7"/>
<circle cx="543.9" cy="135.91" r="2.7"/>
<circle cx="549.7" cy="135.91" r="2.7"/>
<circle cx="555.9" cy="135.91" r="2.7"/>
<circle cx="562.1" cy="135.91" r="2.7"/>
<circle cx="568.2" cy="135.91" r="2.7"/>
<circle cx="575.2" cy="135.91" r="2.7"/>
<circle cx="583.6" cy="135.91" r="2.7"/>
<circle cx="508.5" cy="142.19" r="2.7"/>
<circle cx="513.0" cy="142.19" r="2.7"/>
<circle cx="516.3" cy="142.19" r="2.7"/>
<circle cx="520.4" cy="142.19" r="2.7"/>
<circle cx="524.6" cy="142.19" r="2.7"/>
<circle cx="529.6" cy="142.19" r="2.7"/>
<circle cx="533.8" cy="142.19" r="2.7"/>
<circle cx="538.0" cy="142.19" r="2.7"/>
<circle cx="542.1" cy="142.19" r="2.7"/>
<circle cx="546.3" cy="142.19" r="2.7"/>
<circle cx="550.5" cy="142.19" r="2.7"/>
<circle cx="554.7" cy="142.19" r="2.7"/>
<circle cx="558.8" cy="142.19" r="2.7"/>
<circle cx="563.0" cy="142.19" r="2.7"/>
<circle cx="567.2" cy="142.19" r="2.7"/>
<circle cx="571.4" cy="142.19" r="2.7"/>
<circle cx="575.5" cy="142.19" r="2.7"/>
<circle cx="580.5" cy="142.19" r="2.7"/>
<circle cx="584.7" cy="142.19" r="2.7"/>
<circle cx="589.7" cy="142.19" r="2.7"/>
<circle cx="593.8" cy="142.19" r="2.7"/>
<circle cx="598.6" cy="142.19" r="2.7"/>
<circle cx="603.6" cy="142.19" r="2.7"/>
<circle cx="609.0" cy="142.19" r="2.7"/>
<circle cx="615.6" cy="142.19" r="2.7"/>
<circle cx="526.3" cy="148.48" r="2.7"/>
<circle cx="535.0" cy="148.48" r="2.7"/>
<circle cx="542.1" cy="148.48" r="2.7"/>
<circle cx="548.8" cy="148.48" r="2.7"/>
<circle cx="554.6" cy="148.48" r="2.7"/>
<circle cx="560.5" cy="148.48" r="2.7"/>
<circle cx="565.6" cy="148.48" r="2.7"/>
<circle cx="570.6" cy="148.48" r="2.7"/>
<circle cx="575.6" cy="148.48" r="2.7"/>
<circle cx="580.6" cy="148.48" r="2.7"/>
<circle cx="585.6" cy="148.48" r="2.7"/>
<circle cx="590.6" cy="148.48" r="2.7"/>
<circle cx="595.6" cy="148.48" r="2.7"/>
<circle cx="600.6" cy="148.48" r="2.7"/>
<circle cx="605.6" cy="148.48" r="2.7"/>
<circle cx="610.1" cy="148.48" r="2.7"/>
<circle cx="615.3" cy="148.48" r="2.7"/>
<circle cx="621.6" cy="148.48" r="2.7"/>
<circle cx="627.8" cy="148.48" r="2.7"/>
<circle cx="635.3" cy="148.48" r="2.7"/>
<circle cx="521.3" cy="154.78" r="2.7"/>
<circle cx="528.8" cy="154.78" r="2.7"/>
<circle cx="534.6" cy="154.78" r="2.7"/>
<circle cx="539.6" cy="154.78" r="2.7"/>
<circle cx="543.6" cy="154.78" r="2.7"/>
<circle cx="547.0" cy="154.78" r="2.7"/>
<circle cx="550.4" cy="154.78" r="2.7"/>
<circle cx="553.7" cy="154.78" r="2.7"/>
<circle cx="557.0" cy="154.78" r="2.7"/>
<circle cx="560.3" cy="154.78" r="2.7"/>
<circle cx="563.5" cy="154.78" r="2.7"/>
<circle cx="566.8" cy="154.78" r="2.7"/>
<circle cx="569.9" cy="154.78" r="2.7"/>
<circle cx="573.1" cy="154.78" r="2.7"/>
<circle cx="576.2" cy="154.78" r="2.7"/>
<circle cx="579.3" cy="154.78" r="2.7"/>
<circle cx="582.4" cy="154.78" r="2.7"/>
<circle cx="585.4" cy="154.78" r="2.7"/>
<circle cx="588.4" cy="154.78" r="2.7"/>
<circle cx="591.4" cy="154.78" r="2.7"/>
<circle cx="594.4" cy="154.78" r="2.7"/>
<circle cx="597.3" cy="154.78" r="2.7"/>
<circle cx="600.2" cy="154.78" r="2.7"/>
<circle cx="603.1" cy="154.78" r="2.7"/>
<circle cx="606.0" cy="154.78" r="2.7"/>
<circle cx="608.8" cy="154.78" r="2.7"/>
<circle cx="611.6" cy="154.78" r="2.7"/>
<circle cx="614.4" cy="154.78" r="2.7"/>
<circle cx="617.2" cy="154.78" r="2.7"/>
<circle cx="620.0" cy="154.78" r="2.7"/>
<circle cx="622.8" cy="154.78" r="2.7"/>
<circle cx="625.6" cy="154.78" r="2.7"/>
<circle cx="628.4" cy="154.78" r="2.7"/>
<circle cx="631.2" cy="154.78" r="2.7"/>
<circle cx="634.0" cy="154.78" r="2.7"/>
<circle cx="636.8" cy="154.78" r="2.7"/>
<circle cx="639.6" cy="154.78" r="2.7"/>
<circle cx="642.4" cy="154.78" r="2.7"/>
<circle cx="645.2" cy="154.78" r="2.7"/>
<circle cx="648.1" cy="154.78" r="2.7"/>
<circle cx="651.3" cy="154.78" r="2.7"/>
<circle cx="654.7" cy="154.78" r="2.7"/>
<circle cx="658.4" cy="154.78" r="2.7"/>
<circle cx="662.4" cy="154.78" r="2.7"/>
<circle cx="667.4" cy="154.78" r="2.7"/>
<circle cx="582.7" cy="161.06" r="2.7"/>
<circle cx="588.0" cy="161.06" r="2.7"/>
<circle cx="593.1" cy="161.06" r="2.7"/>
<circle cx="598.0" cy="161.06" r="2.7"/>
<circle cx="602.6" cy="161.06" r="2.7"/>
<circle cx="607.1" cy="161.06" r="2.7"/>
<circle cx="611.3" cy="161.06" r="2.7"/>
<circle cx="615.3" cy="161.06" r="2.7"/>
<circle cx="619.0" cy="161.06" r="2.7"/>
<circle cx="622.6" cy="161.06" r="2.7"/>
<circle cx="625.9" cy="161.06" r="2.7"/>
<circle cx="628.9" cy="161.06" r="2.7"/>
<circle cx="631.8" cy="161.06" r="2.7"/>
<circle cx="634.3" cy="161.06" r="2.7"/>
<circle cx="636.3" cy="161.06" r="2.7"/>
<circle cx="638.0" cy="161.06" r="2.7"/>
<circle cx="639.7" cy="161.06" r="2.7"/>
<circle cx="641.4" cy="161.06" r="2.7"/>
<circle cx="643.1" cy="161.06" r="2.7"/>
<circle cx="644.8" cy="161.06" r="2.7"/>
<circle cx="646.5" cy="161.06" r="2.7"/>
<circle cx="648.2" cy="161.06" r="2.7"/>
<circle cx="649.9" cy="161.06" r="2.7"/>
<circle cx="651.6" cy="161.06" r="2.7"/>
<circle cx="653.3" cy="161.06" r="2.7"/>
<circle cx="655.0" cy="161.06" r="2.7"/>
<circle cx="656.7" cy="161.06" r="2.7"/>
<circle cx="658.4" cy="161.06" r="2.7"/>
<circle cx="660.1" cy="161.06" r="2.7"/>
<circle cx="661.8" cy="161.06" r="2.7"/>
<circle cx="663.5" cy="161.06" r="2.7"/>
<circle cx="665.2" cy="161.06" r="2.7"/>
<circle cx="666.9" cy="161.06" r="2.7"/>
<circle cx="668.6" cy="161.06" r="2.7"/>
<circle cx="670.3" cy="161.06" r="2.7"/>
<circle cx="672.0" cy="161.06" r="2.7"/>
<circle cx="673.7" cy="161.06" r="2.7"/>
<circle cx="675.4" cy="161.06" r="2.7"/>
<circle cx="677.1" cy="161.06" r="2.7"/>
<circle cx="678.8" cy="161.06" r="2.7"/>
<circle cx="388.6" cy="167.35" r="2.7"/>
<circle cx="394.2" cy="167.35" r="2.7"/>
<circle cx="399.4" cy="167.35" r="2.7"/>
<circle cx="404.3" cy="167.35" r="2.7"/>
<circle cx="409.0" cy="167.35" r="2.7"/>
<circle cx="413.2" cy="167.35" r="2.7"/>
<circle cx="417.0" cy="167.35" r="2.7"/>
<circle cx="420.3" cy="167.35" r="2.7"/>
<circle cx="424.0" cy="167.35" r="2.7"/>
<circle cx="427.8" cy="167.35" r="2.7"/>
<circle cx="431.7" cy="167.35" r="2.7"/>
<circle cx="435.4" cy="167.35" r="2.7"/>
<circle cx="439.0" cy="167.35" r="2.7"/>
<circle cx="442.9" cy="167.35" r="2.7"/>
<circle cx="446.2" cy="167.35" r="2.7"/>
<circle cx="449.6" cy="167.35" r="2.7"/>
<circle cx="453.2" cy="167.35" r="2.7"/>
<circle cx="457.1" cy="167.35" r="2.7"/>
<circle cx="461.2" cy="167.35" r="2.7"/>
<circle cx="465.4" cy="167.35" r="2.7"/>
<circle cx="470.4" cy="167.35" r="2.7"/>
<circle cx="477.1" cy="167.35" r="2.7"/>
<circle cx="461.1" cy="230.25" r="2.7"/>
<circle cx="470.5" cy="230.25" r="2.7"/>
<circle cx="477.8" cy="230.25" r="2.7"/>
<circle cx="484.1" cy="230.25" r="2.7"/>
<circle cx="490.1" cy="230.25" r="2.7"/>
<circle cx="496.2" cy="230.25" r="2.7"/>
<circle cx="501.7" cy="230.25" r="2.7"/>
<circle cx="447.1" cy="236.54" r="2.7"/>
<circle cx="461.6" cy="236.54" r="2.7"/>
<circle cx="470.8" cy="236.54" r="2.7"/>
<circle cx="478.3" cy="236.54" r="2.7"/>
<circle cx="484.5" cy="236.54" r="2.7"/>
<circle cx="490.5" cy="236.54" r="2.7"/>
<circle cx="496.3" cy="236.54" r="2.7"/>
<circle cx="448.8" cy="242.83" r="2.7"/>
<circle cx="458.8" cy="242.83" r="2.7"/>
<circle cx="465.7" cy="242.83" r="2.7"/>
<circle cx="473.2" cy="242.83" r="2.7"/>
<circle cx="480.1" cy="242.83" r="2.7"/>
<circle cx="486.4" cy="242.83" r="2.7"/>
<circle cx="492.4" cy="242.83" r="2.7"/>
<circle cx="415.4" cy="249.12" r="2.7"/>
<circle cx="424.9" cy="249.12" r="2.7"/>
<circle cx="435.4" cy="249.12" r="2.7"/>
<circle cx="444.4" cy="249.12" r="2.7"/>
<circle cx="451.6" cy="249.12" r="2.7"/>
<circle cx="459.1" cy="249.12" r="2.7"/>
<circle cx="465.5" cy="249.12" r="2.7"/>
<circle cx="470.8" cy="249.12" r="2.7"/>
<circle cx="476.7" cy="249.12" r="2.7"/>
<circle cx="482.8" cy="249.12" r="2.7"/>
<circle cx="488.8" cy="249.12" r="2.7"/>
<circle cx="424.9" cy="255.41" r="2.7"/>
<circle cx="435.8" cy="255.41" r="2.7"/>
<circle cx="444.9" cy="255.41" r="2.7"/>
<circle cx="453.3" cy="255.41" r="2.7"/>
<circle cx="462.5" cy="255.41" r="2.7"/>
<circle cx="471.4" cy="255.41" r="2.7"/>
<circle cx="478.8" cy="255.41" r="2.7"/>
<circle cx="486.9" cy="255.41" r="2.7"/>
<circle cx="399.9" cy="261.70" r="2.7"/>
<circle cx="415.4" cy="261.70" r="2.7"/>
<circle cx="426.6" cy="261.70" r="2.7"/>
<circle cx="435.8" cy="261.70" r="2.7"/>
<circle cx="444.9" cy="261.70" r="2.7"/>
<circle cx="451.6" cy="261.70" r="2.7"/>
<circle cx="459.1" cy="261.70" r="2.7"/>
<circle cx="467.0" cy="261.70" r="2.7"/>
<circle cx="475.5" cy="261.70" r="2.7"/>
<circle cx="404.4" cy="268.00" r="2.7"/>
<circle cx="417.7" cy="268.00" r="2.7"/>
<circle cx="428.2" cy="268.00" r="2.7"/>
<circle cx="441.6" cy="268.00" r="2.7"/>
<circle cx="451.6" cy="268.00" r="2.7"/>
<circle cx="460.8" cy="268.00" r="2.7"/>
<circle cx="469.9" cy="268.00" r="2.7"/>
<circle cx="478.3" cy="268.00" r="2.7"/>
<circle cx="394.0" cy="274.28" r="2.7"/>
<circle cx="408.7" cy="274.28" r="2.7"/>
<circle cx="419.6" cy="274.28" r="2.7"/>
<circle cx="429.9" cy="274.28" r="2.7"/>
<circle cx="437.1" cy="274.28" r="2.7"/>
<circle cx="445.8" cy="274.28" r="2.7"/>
<circle cx="455.0" cy="274.28" r="2.7"/>
<circle cx="461.6" cy="274.28" r="2.7"/>
<circle cx="470.5" cy="274.28" r="2.7"/>
<circle cx="478.1" cy="274.28" r="2.7"/>
<circle cx="399.0" cy="280.57" r="2.7"/>
<circle cx="411.6" cy="280.57" r="2.7"/>
<circle cx="422.4" cy="280.57" r="2.7"/>
<circle cx="437.8" cy="280.57" r="2.7"/>
<circle cx="448.3" cy="280.57" r="2.7"/>
<circle cx="462.0" cy="280.57" r="2.7"/>
<circle cx="387.7" cy="286.87" r="2.7"/>
<circle cx="400.7" cy="286.87" r="2.7"/>
<circle cx="412.4" cy="286.87" r="2.7"/>
<circle cx="422.7" cy="286.87" r="2.7"/>
<circle cx="430.8" cy="286.87" r="2.7"/>
<circle cx="441.6" cy="286.87" r="2.7"/>
<circle cx="454.1" cy="286.87" r="2.7"/>
<circle cx="466.5" cy="286.87" r="2.7"/>
<circle cx="387.7" cy="293.15" r="2.7"/>
<circle cx="401.0" cy="293.15" r="2.7"/>
<circle cx="413.2" cy="293.15" r="2.7"/>
<circle cx="431.1" cy="293.15" r="2.7"/>
<circle cx="443.3" cy="293.15" r="2.7"/>
<circle cx="456.6" cy="293.15" r="2.7"/>
<circle cx="466.8" cy="293.15" r="2.7"/>
<circle cx="388.2" cy="299.44" r="2.7"/>
<circle cx="401.9" cy="299.44" r="2.7"/>
<circle cx="414.1" cy="299.44" r="2.7"/>
<circle cx="422.4" cy="299.44" r="2.7"/>
<circle cx="433.3" cy="299.44" r="2.7"/>
<circle cx="445.8" cy="299.44" r="2.7"/>
<circle cx="388.5" cy="305.74" r="2.7"/>
<circle cx="402.7" cy="305.74" r="2.7"/>
<circle cx="422.7" cy="305.74" r="2.7"/>
<circle cx="434.4" cy="305.74" r="2.7"/>
<circle cx="449.4" cy="305.74" r="2.7"/>
<circle cx="388.7" cy="312.02" r="2.7"/>
<circle cx="403.2" cy="312.02" r="2.7"/>
<circle cx="413.7" cy="312.02" r="2.7"/>
<circle cx="435.8" cy="312.02" r="2.7"/>
<circle cx="451.6" cy="312.02" r="2.7"/>
<circle cx="389.9" cy="318.31" r="2.7"/>
<circle cx="414.9" cy="318.31" r="2.7"/>
<circle cx="424.1" cy="318.31" r="2.7"/>
<circle cx="437.4" cy="318.31" r="2.7"/>
<circle cx="452.8" cy="318.31" r="2.7"/>
<circle cx="391.0" cy="324.61" r="2.7"/>
<circle cx="402.4" cy="324.61" r="2.7"/>
<circle cx="424.4" cy="324.61" r="2.7"/>
<circle cx="438.3" cy="324.61" r="2.7"/>
<circle cx="402.7" cy="330.89" r="2.7"/>
<circle cx="412.4" cy="330.89" r="2.7"/>
<circle cx="425.4" cy="330.89" r="2.7"/>
</g>
<text x="64.6" y="389.8" text-anchor="middle">0</text>
<text x="187.4" y="389.8" text-anchor="middle">0.2</text>
<text x="310.2" y="389.8" text-anchor="middle">0.4</text>
<text x="433.0" y="389.8" text-anchor="middle">0.6</text>
<text x="555.8" y="389.8" text-anchor="middle">0.8</text>
<text x="679.6" y="389.8" text-anchor="middle">1</text>
<path d="M672.5 388.1h6.55v2.4h-6.55zM681.45 388.1h1.55v2.4h-1.55z" fill="#fff"/>
<text x="61.3" y="15.9" text-anchor="end">40</text>
<text x="61.3" y="105.4" text-anchor="end">20</text>
<text x="61.3" y="194.9" text-anchor="end">0</text>
<text x="61.3" y="284.4" text-anchor="end">−20</text>
<text x="61.3" y="373.9" text-anchor="end">−40</text>
<text x="372.3" y="411.9" text-anchor="middle">Time (Units of Dynamo Period)</text>
<text transform="translate(17.3 185.6) rotate(-90)" text-anchor="middle">Latitude (deg)</text>
</svg></body></html>
